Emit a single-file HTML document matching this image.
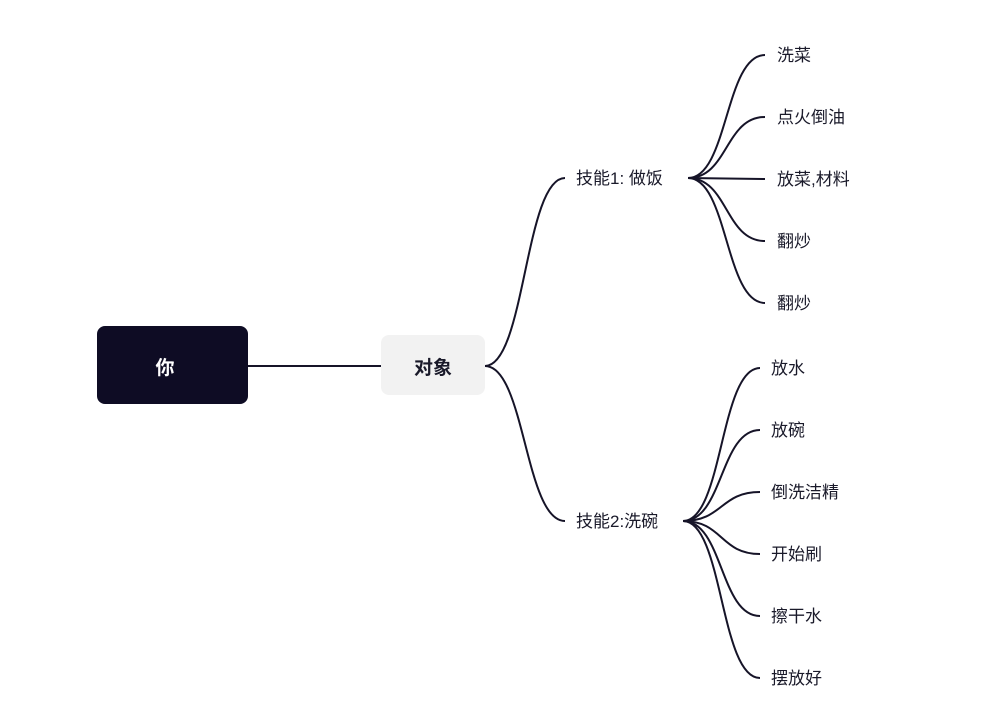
<!DOCTYPE html>
<html><head><meta charset="utf-8"><style>
body{margin:0;background:#fff;width:998px;height:726px;overflow:hidden;font-family:"Liberation Sans","Noto Sans CJK SC",sans-serif;}
svg{position:absolute;left:0;top:0}
.t{position:absolute;font-size:17px;color:#1a1a2a;line-height:20px;white-space:nowrap}
</style></head><body>
<svg width="998" height="726">
<g fill="none" stroke="#161428" stroke-width="2">
<line x1="248" y1="366" x2="381" y2="366"/>
<path d="M485 366 C525 366 525 178 565 178"/>
<path d="M485 366 C525 366 525 521 565 521"/>
<path d="M688 178 C728 178 725 55 765 55"/>
<path d="M688 178 C728 178 725 117 765 117"/>
<path d="M688 178 L765 179"/>
<path d="M688 178 C728 178 725 241 765 241"/>
<path d="M688 178 C728 178 725 303 765 303"/>
<path d="M683 521 C723 521 720 368 760 368"/>
<path d="M683 521 C723 521 720 430 760 430"/>
<path d="M683 521 C723 521 720 492 760 492"/>
<path d="M683 521 C723 521 720 554 760 554"/>
<path d="M683 521 C723 521 720 616 760 616"/>
<path d="M683 521 C723 521 720 678 760 678"/>
</g>
<rect x="97" y="326" width="151" height="78" rx="8" fill="#0e0c24"/>
<rect x="381" y="335" width="104" height="60" rx="8" fill="#f2f2f2"/>
<text x="165" y="374" fill="#fff" font-size="19" font-weight="bold" font-family="Liberation Sans, Noto Sans CJK SC, sans-serif" text-anchor="middle">你</text>
<text x="433" y="374" fill="#1a1a2a" font-size="19" font-weight="bold" font-family="Liberation Sans, Noto Sans CJK SC, sans-serif" text-anchor="middle">对象</text>
</svg>
<div class="t" style="left:576px;top:169px">技能1: 做饭</div>
<div class="t" style="left:576px;top:512px">技能2:洗碗</div>
<div class="t" style="left:777px;top:46px">洗菜</div>
<div class="t" style="left:777px;top:108px">点火倒油</div>
<div class="t" style="left:777px;top:170px">放菜,材料</div>
<div class="t" style="left:777px;top:232px">翻炒</div>
<div class="t" style="left:777px;top:294px">翻炒</div>
<div class="t" style="left:771px;top:359px">放水</div>
<div class="t" style="left:771px;top:421px">放碗</div>
<div class="t" style="left:771px;top:483px">倒洗洁精</div>
<div class="t" style="left:771px;top:545px">开始刷</div>
<div class="t" style="left:771px;top:607px">擦干水</div>
<div class="t" style="left:771px;top:669px">摆放好</div>
</body></html>
